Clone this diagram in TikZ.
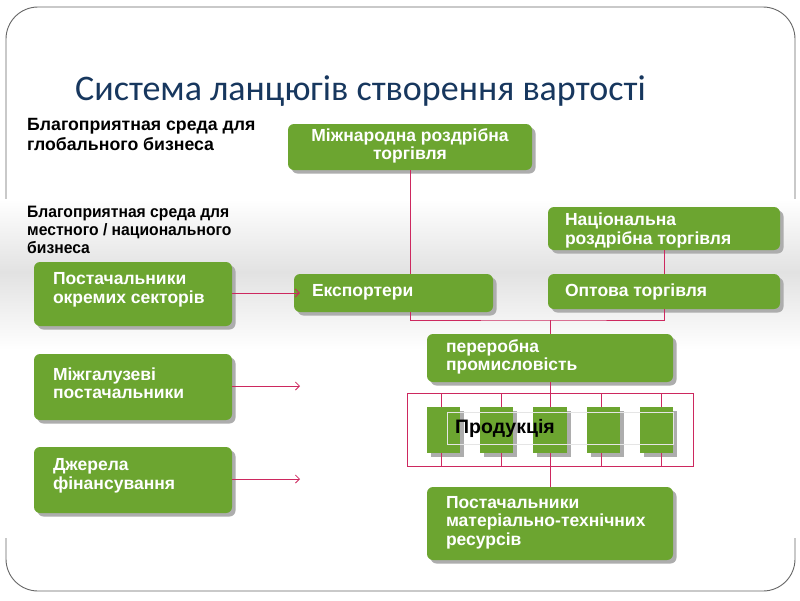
\documentclass[tikz,border=0pt]{standalone}
\usepackage{fontspec}
\setmainfont{Liberation Sans}
\newfontfamily\titlefont{Carlito}
\newfontfamily\narrowfont[FakeStretch=0.95]{Liberation Sans}
\usetikzlibrary{arrows.meta,shadows,calc}
\definecolor{gbox}{RGB}{108,165,48}
\definecolor{pline}{RGB}{205,40,95}
\definecolor{ttl}{RGB}{23,55,94}
\definecolor{band}{RGB}{226,226,226}
\begin{document}
\begin{tikzpicture}[x=1pt,y=-1pt,
  greenbox/.style={fill=gbox, draw=none, rounded corners=6pt, inner sep=0pt,
    drop shadow={shadow xshift=3.5pt, shadow yshift=-3.5pt, fill=black!32, opacity=1}},
  prodbox/.style={fill=gbox, draw=none, inner sep=0pt,
    drop shadow={shadow xshift=3.5pt, shadow yshift=-3.5pt, fill=black!32, opacity=1}},
  btext/.style={text=white, font=\bfseries\fontsize{17.5}{18.5}\selectfont, inner sep=0pt, align=left},
  conn/.style={draw=pline, line width=0.8pt},
  arr/.style={draw=pline, line width=0.8pt, -{Straight Barb[length=4pt,width=8pt]}},
  sidetext/.style={text=black, inner sep=0pt, align=left, anchor=north west}
]
\useasboundingbox (0,0) rectangle (800,600);
\fill[white] (0,0) rectangle (800,600);
% frame
\draw[black!60, line width=0.9pt, rounded corners=32pt] (6,7) rectangle (795,591);
% band
\fill[white] (0,199) rectangle (800,538);
\shade[top color=white, bottom color=band] (0,199) rectangle (800,272);
\shade[top color=band, bottom color=white] (0,272) rectangle (800,350);

% title
\node[anchor=base west, inner sep=0pt, text=ttl, font=\titlefont\fontsize{36}{40}\selectfont] (title) at (75,100) {Система ланцюгів створення вартості};

% side texts
\node[sidetext, font=\bfseries\fontsize{17.7}{20}\selectfont] (env1) at (27,118) {Благоприятная среда для\\глобального бизнеса};
\node[sidetext, font=\narrowfont\bfseries\fontsize{16.5}{18}\selectfont] (env2) at (27,206) {Благоприятная среда для\\местного / национального\\бизнеса};

% boxes
\node[greenbox, minimum width=244, minimum height=46] (mr) at (410,147) {};
\node[greenbox, minimum width=232, minimum height=43] (nat) at (664,228.5) {};
\node[greenbox, minimum width=199, minimum height=38] (exp) at (393.5,293) {};
\node[greenbox, minimum width=232, minimum height=35] (opt) at (664,291.5) {};
\node[greenbox, minimum width=246, minimum height=48] (per) at (550,358) {};
\node[greenbox, minimum width=246, minimum height=73] (mat) at (550,523.5) {};
\node[greenbox, minimum width=198, minimum height=64] (b1) at (133,294) {};
\node[greenbox, minimum width=198, minimum height=66] (b2) at (133,387) {};
\node[greenbox, minimum width=198, minimum height=66] (b3) at (133,480) {};

% box texts
\node[btext, align=center] (mrt) at ([yshift=1pt]mr.center) {Міжнародна роздрібна\\торгівля};
\node[btext, anchor=west] (natt) at ([xshift=17pt,yshift=-2pt]nat.west) {Національна\\роздрібна торгівля};
\node[btext, anchor=west] (expt) at ([xshift=18pt,yshift=1pt]exp.west) {Експортери};
\node[btext, anchor=west] (optt) at ([xshift=17pt,yshift=0pt]opt.west) {Оптова торгівля};
\node[btext, anchor=west] (pert) at ([xshift=19pt,yshift=1pt]per.west) {переробна\\промисловість};
\node[btext, anchor=west] (matt) at ([xshift=19pt,yshift=1pt]mat.west) {Постачальники\\матеріально-технічних\\ресурсів};
\node[btext, anchor=west] (b1t) at ([xshift=19pt,yshift=4pt]b1.west) {Постачальники\\окремих секторів};
\node[btext, anchor=west] (b2t) at ([xshift=19pt,yshift=4pt]b2.west) {Міжгалузеві\\постачальники};
\node[btext, anchor=west] (b3t) at ([xshift=19pt,yshift=4pt]b3.west) {Джерела\\фінансування};

% production frame and squares
\node[draw=pline, line width=0.8pt, minimum width=286, minimum height=73, inner sep=0pt] (pf) at (550,429.5) {};
\node[prodbox, minimum width=33, minimum height=46] (p1) at (443.5,430) {};
\node[prodbox, minimum width=33, minimum height=46] (p2) at (496.5,430) {};
\node[prodbox, minimum width=34, minimum height=46] (p3) at (550,430) {};
\node[prodbox, minimum width=33, minimum height=46] (p4) at (603.5,430) {};
\node[prodbox, minimum width=33, minimum height=46] (p5) at (656.5,430) {};
\node[draw=white!80!gray, line width=0.8pt, minimum width=226, minimum height=32, inner sep=0pt] (pbox) at (560,428) {};
\node[inner sep=0pt, font=\bfseries\fontsize{19.5}{20}\selectfont] (prod) at (505,428.5) {Продукція};

% ticks
\foreach \p/\s in {p1/-2.5, p2/4.5, p4/-2.5, p5/4.5} {
  \draw[conn] ([xshift=\s pt]\p.north) -- ([xshift=\s pt]\p.north |- pf.north);
  \draw[conn] ([xshift=\s pt]\p.south) -- ([xshift=\s pt]\p.south |- pf.south);
}
\draw[conn] (p3.north) -- (p3.north |- pf.north);
\draw[conn] (p3.south) -- (p3.south |- pf.south);

% connectors
\coordinate (j) at (550,320);
\draw[conn] (mr.south) -- (mr.south |- exp.north);
\draw[conn] (exp.south -| mr.south) |- (j) -| (opt.south);
\draw[conn] (nat.south) -- (opt.north);
\draw[conn] (j) -- (per.north);
\draw[conn] (per.south) -- (pf.north);
\draw[conn] (pf.south) -- (mat.north);

% arrows
\coordinate (a2) at (300,386);
\coordinate (a3) at (300,479);
\draw[arr] (b1.east |- 0,293) -- ([xshift=6pt]exp.west);
\draw[arr] (b2.east |- a2) -- (a2);
\draw[arr] (b3.east |- a3) -- (a3);
\end{tikzpicture}
\end{document}
